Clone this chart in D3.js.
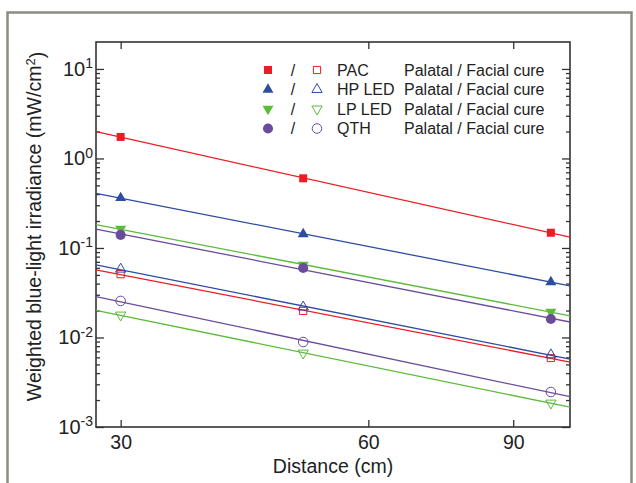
<!DOCTYPE html>
<html>
<head>
<meta charset="utf-8">
<script src="https://cdn.jsdelivr.net/npm/d3@7"></script>
<style>
  body { margin: 0; background: #fff; }
  text { font-family: "Liberation Sans", Arial, sans-serif; fill: #222; }
</style>
</head>
<body>
<div id="chart"></div>
<script>
// distances (cm)
var distances = [30, 50, 100];

// weighted blue-light irradiance (mW/cm2)
var pacPalatal = [1.74, 0.60, 0.148];
var pacFacial = [0.051, 0.0198, 0.0059];
var hpPalatal = [0.362, 0.143, 0.0417];
var hpFacial = [0.058, 0.0219, 0.0064];
var lpPalatal = [0.163, 0.0646, 0.0193];
var lpFacial = [0.0178, 0.0067, 0.00185];
var qthPalatal = [0.140, 0.0598, 0.0161];
var qthFacial = [0.0256, 0.0089, 0.00246];

var xTicks = [30, 60, 90];
var yMajorTicks = [1e-3, 1e-2, 1e-1, 1e0, 1e1];
var yExponents = ["-3", "-2", "-1", "0", "1"];

var sources = ["PAC", "HP LED", "LP LED", "QTH"];
var colors = ["#ec1c24", "#2c4da0", "#5dbb3c", "#6a4c9c"];
var shapes = ["square", "up", "down", "circle"];
var palatal = [pacPalatal, hpPalatal, lpPalatal, qthPalatal];
var facial = [pacFacial, hpFacial, lpFacial, qthFacial];

var margin = { top: 42, right: 66, bottom: 56, left: 96 };
var width = 636 - margin.left - margin.right;
var height = 483 - margin.top - margin.bottom;

var root = d3.select("#chart")
  .append("svg")
  .attr("width", 636)
  .attr("height", 483);

// outer grey frame of the figure
root.append("rect")
  .attr("x", 7.5)
  .attr("y", 12.5)
  .attr("width", 624)
  .attr("height", 520)
  .attr("fill", "none")
  .attr("stroke", "#8c8c84")
  .attr("stroke-width", 2.5);

var svg = root.append("g")
  .attr("transform", "translate(" + margin.left + "," + margin.top + ")");

var x = d3.scaleLog().domain([28, 105.5]).range([0, width]);
var y = d3.scaleLog().domain([1e-3, 20]).range([height, 0]);

var yMinor = [];
[1e-3, 1e-2, 1e-1, 1e0].forEach(function(d) {
  for (var k = 2; k <= 9; k++) yMinor.push(d * k);
});

function styleAxis(g) {
  g.select(".domain").remove();
  g.selectAll(".tick line").attr("stroke", "#333").attr("stroke-width", 1.3);
}

// bottom / top ticks
svg.append("g")
  .attr("transform", "translate(0," + height + ")")
  .call(d3.axisBottom(x).tickValues(xTicks).tickSizeInner(-7).tickSizeOuter(0)
    .tickPadding(8).tickFormat(d3.format("d")))
  .call(styleAxis)
  .selectAll("text")
  .attr("font-size", "19.5px")
  .attr("fill", "#222");

svg.append("g")
  .call(d3.axisTop(x).tickValues(xTicks).tickSizeInner(-7).tickSizeOuter(0).tickFormat(""))
  .call(styleAxis);

// left / right ticks
svg.append("g")
  .call(d3.axisLeft(y).tickValues(yMajorTicks).tickSizeInner(-8).tickSizeOuter(0).tickFormat(""))
  .call(styleAxis);
svg.append("g")
  .call(d3.axisLeft(y).tickValues(yMinor).tickSizeInner(-4).tickSizeOuter(0).tickFormat(""))
  .call(styleAxis);
svg.append("g")
  .attr("transform", "translate(" + width + ",0)")
  .call(d3.axisRight(y).tickValues(yMajorTicks).tickSizeInner(-8).tickSizeOuter(0).tickFormat(""))
  .call(styleAxis);
svg.append("g")
  .attr("transform", "translate(" + width + ",0)")
  .call(d3.axisRight(y).tickValues(yMinor).tickSizeInner(-4).tickSizeOuter(0).tickFormat(""))
  .call(styleAxis);

// y tick labels 10^n
yMajorTicks.forEach(function(d, i) {
  var t = svg.append("text")
    .attr("x", -3)
    .attr("y", y(d))
    .attr("dy", "0.35em")
    .attr("text-anchor", "end")
    .attr("font-size", "20px");
  t.append("tspan").text("10");
  t.append("tspan").attr("dy", "-0.55em").attr("font-size", "14px").text(yExponents[i]);
});

// plot frame
svg.append("rect")
  .attr("width", width)
  .attr("height", height)
  .attr("fill", "none")
  .attr("stroke", "#333")
  .attr("stroke-width", 1.6);

// axis titles
svg.append("text")
  .attr("x", width / 2)
  .attr("y", height + 46)
  .attr("text-anchor", "middle")
  .attr("font-size", "19.5px")
  .text("Distance (cm)");

var yt = svg.append("text")
  .attr("transform", "translate(-55," + (height / 2 - 8) + ") rotate(-90)")
  .attr("text-anchor", "middle")
  .attr("font-size", "19.5px");
yt.append("tspan").text("Weighted blue-light irradiance (mW/cm");
yt.append("tspan").attr("dy", "-0.5em").attr("font-size", "13px").text("2");
yt.append("tspan").attr("dy", "0.5em").text(")");

// symbols
function symbolPath(shape, filled) {
  var type = shape === "square" ? d3.symbolSquare
    : shape === "circle" ? d3.symbolCircle : d3.symbolTriangle;
  var size = shape === "square" ? (filled ? 64 : 52)
    : shape === "circle" ? (filled ? 80 : 72) : (filled ? 52 : 46);
  return d3.symbol().type(type).size(size)();
}

function drawMarker(g, shape, filled, color, cx, cy) {
  var rot = shape === "down" ? " rotate(180)" : "";
  g.append("path")
    .attr("d", symbolPath(shape, filled))
    .attr("transform", "translate(" + cx + "," + cy + ")" + rot)
    .attr("fill", filled ? color : "none")
    .attr("stroke", color)
    .attr("stroke-width", filled ? 0 : 1);
}

// power-law fit (straight line in log-log)
function fit(xs, ys) {
  var lx = xs.map(Math.log10), ly = ys.map(Math.log10);
  var mx = d3.mean(lx), my = d3.mean(ly);
  var num = d3.sum(lx, function(v, i) { return (v - mx) * (ly[i] - my); });
  var den = d3.sum(lx, function(v) { return (v - mx) * (v - mx); });
  var b = num / den, a = my - b * mx;
  return function(d) { return Math.pow(10, a + b * Math.log10(d)); };
}

var line = d3.line()
  .x(function(d) { return x(d[0]); })
  .y(function(d) { return y(d[1]); });

var plot = svg.append("g");

sources.forEach(function(name, i) {
  [palatal[i], facial[i]].forEach(function(vals, j) {
    var f = fit(distances, vals);
    var dom = x.domain();
    plot.append("path")
      .attr("d", line([[dom[0], f(dom[0])], [dom[1], f(dom[1])]]))
      .attr("fill", "none")
      .attr("stroke", colors[i])
      .attr("stroke-width", 1.3);
    vals.forEach(function(v, k) {
      drawMarker(plot, shapes[i], j === 0, colors[i], x(distances[k]), y(v));
    });
  });
});

// legend
var legend = svg.append("g").attr("transform", "translate(" + (268 - margin.left) + "," + (70 - margin.top) + ")");
sources.forEach(function(name, i) {
  var row = legend.append("g").attr("transform", "translate(0," + (i * 19.5) + ")");
  drawMarker(row, shapes[i], true, colors[i], 0, 0);
  row.append("text").attr("x", 25).attr("y", 0).attr("dy", "0.35em")
    .attr("text-anchor", "middle").attr("font-size", "16px").attr("fill", "#444").text("/");
  drawMarker(row, shapes[i], false, colors[i], 49, 0);
  row.append("text").attr("x", 69).attr("dy", "0.35em").attr("font-size", "16px").text(name);
  row.append("text").attr("x", 136).attr("dy", "0.35em").attr("font-size", "16px")
    .text("Palatal / Facial cure");
});
</script>
</body>
</html>
